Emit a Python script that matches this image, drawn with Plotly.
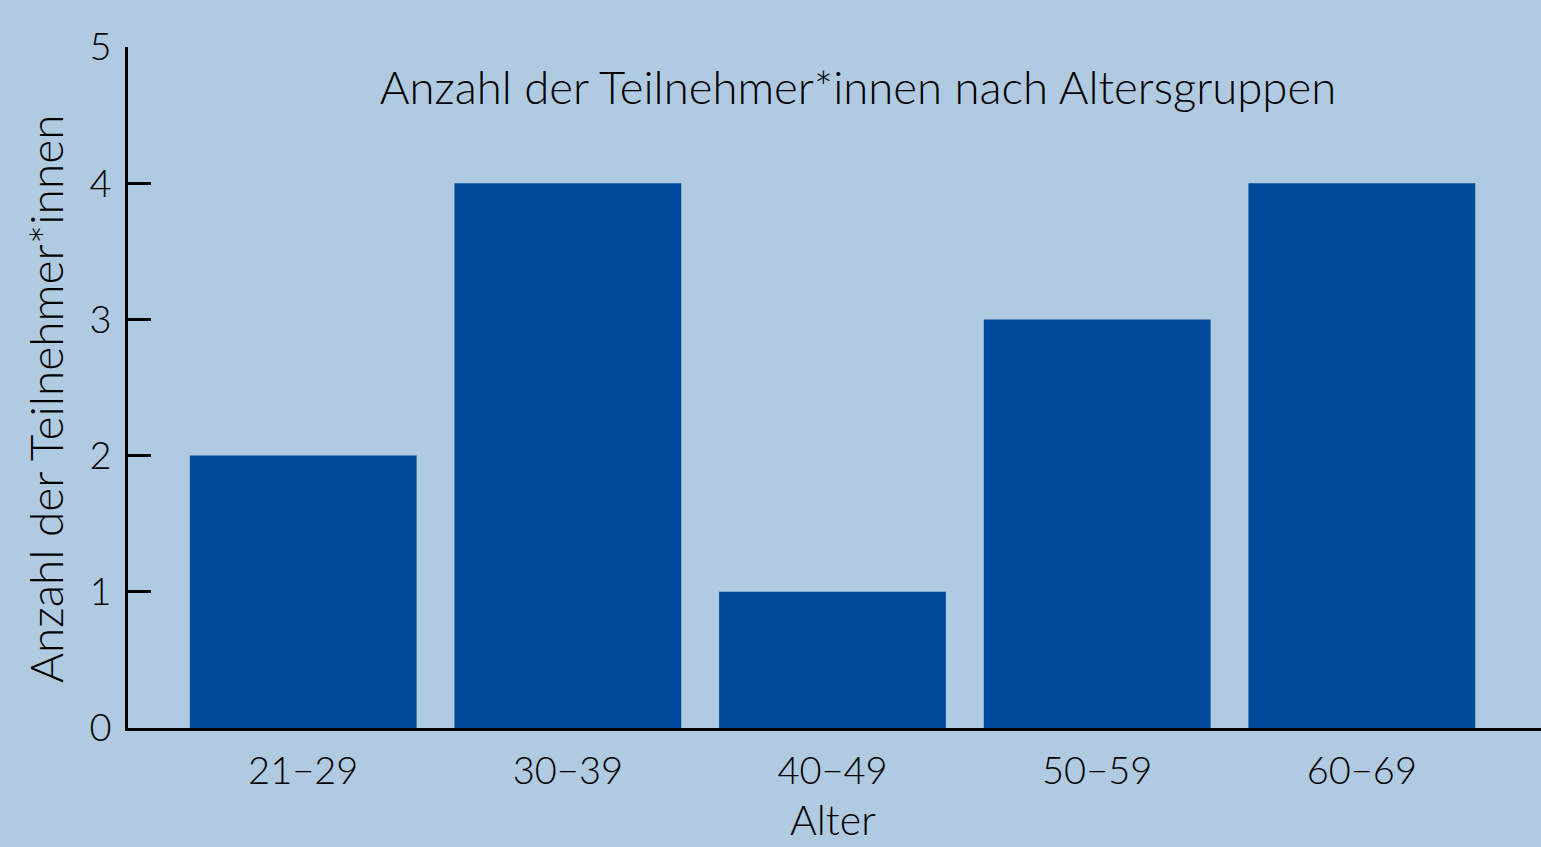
import plotly.graph_objects as go

categories = ["21−29", "30−39", "40−49", "50−59", "60−69"]
counts = [2, 4, 1, 3, 4]
y_ticks = [0, 1, 2, 3, 4, 5]

BG = "#b0cbe1"
BAR = "#004b99"
FONT = "Lato"
W = 300

fig = go.Figure(go.Bar(x=categories, y=counts, marker_color=BAR, width=0.857,
                       marker_line_width=0))

fig.update_layout(
    width=1541, height=847,
    paper_bgcolor=BG, plot_bgcolor=BG,
    margin=dict(l=128, r=0, t=47, b=119),
    font=dict(family=FONT, size=38, color="black", weight=W),
    showlegend=False,
    title=dict(text="Anzahl der Teilnehmer*innen nach Altersgruppen",
               x=858/1541, xanchor="center", xref="container",
               y=1-88/847, yanchor="middle", yref="container",
               font=dict(family=FONT, size=45.5, color="black", weight=W)),
    annotations=[
        dict(text="Anzahl der Teilnehmer*innen", textangle=-90,
             xref="paper", x=-(128-45)/1413, xanchor="center",
             yref="paper", y=(728-399)/681, yanchor="middle",
             showarrow=False,
             font=dict(family=FONT, size=46, color="black", weight=W)),
        dict(text="Alter",
             xref="paper", x=(833-128)/1413, xanchor="center",
             yref="paper", y=(728-846)/681, yanchor="bottom",
             showarrow=False,
             font=dict(family=FONT, size=41, color="black", weight=W)),
    ],
)
fig.update_xaxes(
    type="category", range=[-0.662, 4.677],
    showline=True, linecolor="black", linewidth=2.5,
    ticks="", showgrid=False, zeroline=False,
    ticklabelstandoff=8,
)
fig.update_yaxes(
    range=[0, 5], tickvals=y_ticks,
    showline=True, linecolor="black", linewidth=2.5,
    ticks="inside", ticklen=23, tickwidth=2.5, tickcolor="black",
    showgrid=False, zeroline=False,
    ticklabelstandoff=6,
)

fig.write_html("out.html", config={"displayModeBar": False},
               post_script="document.body.style.margin='0';document.body.style.overflow='hidden';")
